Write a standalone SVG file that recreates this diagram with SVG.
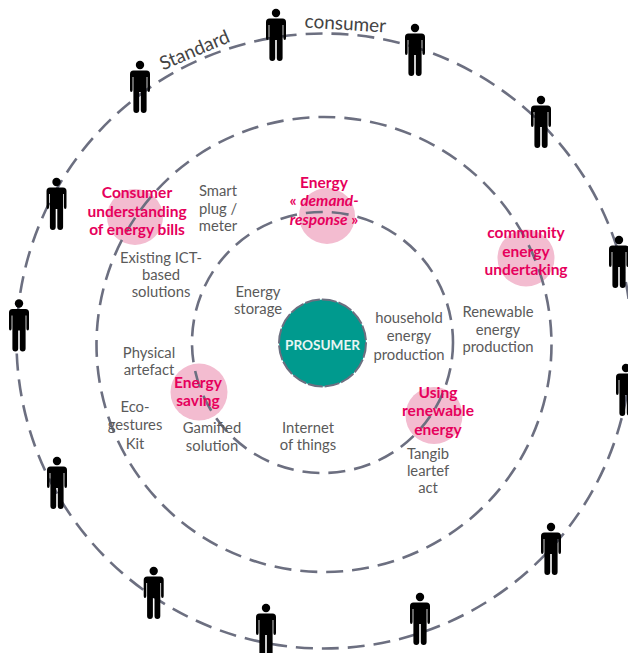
<svg xmlns="http://www.w3.org/2000/svg" width="628" height="653" viewBox="0 0 628 653">
<style>
.ring{fill:none;stroke:#6c6f80;stroke-width:2.6;stroke-dasharray:17 9}
.pink{fill:#f3bcd0}
text{font-family:"Lato","Open Sans","Liberation Sans",sans-serif;text-anchor:middle}
.l{font-size:14.8px;fill:#5a5a5a}
.h{font-size:15.5px;font-weight:700;fill:#e6005c}
.r{font-size:19px;fill:#444}
</style>
<defs>
<g id="p">
<circle cx="0" cy="0" r="4.2" fill="#000"/>
<path d="M-6.5 5.5H6.5Q10 5.500 10 9V25Q10 27 8.800 27Q7.400 27 7.400 25V12H6.600V45Q6.600 48 3.700 48Q0.800 48 0.800 45V27H-0.800V45Q-0.800 48 -3.700 48Q-6.600 48 -6.600 45V12H-7.400V25Q-7.400 27 -8.800 27Q-10 27 -10 25V9Q-10 5.500 -6.500 5.500Z" fill="#000"/>
</g>
</defs>
<g id="highlights">
<circle class="pink" cx="135" cy="217" r="28"/>
<circle class="pink" cx="327" cy="216" r="28"/>
<circle class="pink" cx="526" cy="258" r="28.5"/>
<circle class="pink" cx="199" cy="392" r="28.5"/>
<circle class="pink" cx="434" cy="415.5" r="28.5"/>
</g>
<g id="connectors">
<circle class="ring" cx="324" cy="341" r="307.5"/>
<circle class="ring" cx="324" cy="344.5" r="227.5"/>
<circle class="ring" cx="322.5" cy="342.5" r="130.5"/>
</g>
<g id="prosumer">
<circle cx="322.5" cy="343" r="43.5" fill="#009a8e" stroke="#6c6f80" stroke-width="2" stroke-dasharray="15 2"/>
<text x="322.5" y="350" font-size="13.6" font-weight="700" fill="#e8f5f3">PROSUMER</text>
</g>
<g id="people">
<use href="#p" x="276" y="13"/>
<use href="#p" x="140" y="65"/>
<use href="#p" x="56.500" y="182"/>
<use href="#p" x="19" y="303.500"/>
<use href="#p" x="57" y="461"/>
<use href="#p" x="153.700" y="571"/>
<use href="#p" x="266" y="608"/>
<use href="#p" x="420" y="597"/>
<use href="#p" x="551" y="527"/>
<use href="#p" x="626" y="368"/>
<use href="#p" x="619" y="240"/>
<use href="#p" x="541" y="100"/>
<use href="#p" x="415" y="28"/>
</g>
<g id="ring-labels">
<text class="r" transform="translate(197 56) rotate(-23)">Standard</text>
<text class="r" transform="translate(345 30) rotate(3.500)">consumer</text>
</g>
<g id="n-consumer-bills"><text class="h" x="137" y="198">Consumer</text><text class="h" x="137" y="217">understanding</text><text class="h" x="137" y="235">of energy bills</text></g>
<g id="n-demand"><text class="h" x="324" y="188">Energy</text><text class="h" x="324" y="206">« <tspan font-style="italic">demand-</tspan></text><text class="h" x="324" y="225"><tspan font-style="italic">response</tspan> »</text></g>
<g id="n-community"><text class="h" x="526" y="238">community</text><text class="h" x="526" y="257">energy</text><text class="h" x="526" y="275">undertaking</text></g>
<g id="n-saving"><text class="h" x="198" y="388">Energy</text><text class="h" x="198" y="406">saving</text></g>
<g id="n-renewable"><text class="h" x="438" y="398">Using</text><text class="h" x="438" y="416">renewable</text><text class="h" x="438" y="435">energy</text></g>
<g id="n-smart"><text class="l" x="218" y="196">Smart</text><text class="l" x="218" y="214">plug /</text><text class="l" x="218" y="231">meter</text></g>
<g id="n-ict"><text class="l" x="161" y="263">Existing ICT-</text><text class="l" x="161" y="280">based</text><text class="l" x="161" y="297">solutions</text></g>
<g id="n-storage"><text class="l" x="258" y="297">Energy</text><text class="l" x="258" y="314">storage</text></g>
<g id="n-household"><text class="l" x="409" y="323">household</text><text class="l" x="409" y="341">energy</text><text class="l" x="409" y="360">production</text></g>
<g id="n-production"><text class="l" x="498" y="317">Renewable</text><text class="l" x="498" y="335">energy</text><text class="l" x="498" y="352">production</text></g>
<g id="n-physical"><text class="l" x="149" y="358">Physical</text><text class="l" x="149" y="375">artefact</text></g>
<g id="n-eco"><text class="l" x="135" y="412">Eco-</text><text class="l" x="135" y="430">gestures</text><text class="l" x="135" y="449">Kit</text></g>
<g id="n-gamified"><text class="l" x="212" y="433">Gamified</text><text class="l" x="212" y="451">solution</text></g>
<g id="n-iot"><text class="l" x="308" y="433">Internet</text><text class="l" x="308" y="450">of things</text></g>
<g id="n-tangible"><text class="l" x="428" y="459">Tangib</text><text class="l" x="428" y="476">leartef</text><text class="l" x="428" y="493">act</text></g>
</svg>
